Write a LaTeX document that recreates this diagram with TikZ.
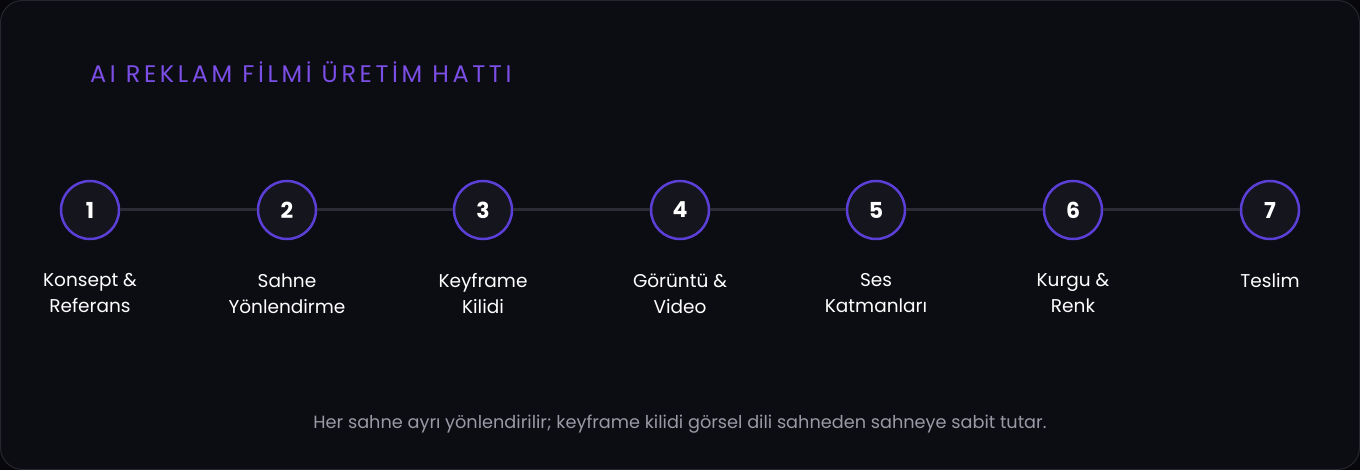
\documentclass[tikz,border=0pt]{standalone}
\usepackage{fontspec}
\setmainfont{Poppins}
\usetikzlibrary{positioning}

\definecolor{outerbg}{HTML}{08080C}
\definecolor{cardbg}{HTML}{0C0C13}
\definecolor{cardline}{HTML}{26262E}
\definecolor{ringcol}{HTML}{5B3FD6}
\definecolor{ringfill}{HTML}{15151D}
\definecolor{railcol}{HTML}{2C2C36}
\definecolor{titlecol}{HTML}{7B4EE6}
\definecolor{notecol}{HTML}{9A9AA6}

\begin{document}
\begin{tikzpicture}[x=1pt, y=-1pt,
    stepcircle/.style={circle, draw=ringcol, fill=ringfill, line width=2.5pt,
      minimum size=58pt, inner sep=0pt, text=white, font=\fontsize{22}{22}\selectfont\bfseries},
    steplabel/.style={align=center, text=white, inner sep=0pt,
      font=\fontsize{18.5}{26}\selectfont},
    rail/.style={draw=railcol, line width=3pt}]

  % Arka plan ve kart
  \fill[outerbg] (0,0) rectangle (1360,470);
  \draw[cardline, fill=cardbg, line width=1pt, rounded corners=22pt] (0.5,0.5) rectangle (1359.5,469.5);

  % Başlık
  \node[anchor=west, text=titlecol, inner sep=0pt,
    font=\fontsize{24}{24}\selectfont\addfontfeatures{LetterSpace=15}] (title) at (90,72)
    {AI REKLAM FİLMİ ÜRETİM HATTI};

  % Adımlar
  \node[stepcircle] (s1) at (90,210) {1};
  \node[stepcircle] (s2) at (287,210) {2};
  \node[stepcircle] (s3) at (483,210) {3};
  \node[stepcircle] (s4) at (680,210) {4};
  \node[stepcircle] (s5) at (876,210) {5};
  \node[stepcircle] (s6) at (1073,210) {6};
  \node[stepcircle] (s7) at (1270,210) {7};

  % Bağlantı çizgileri
  \foreach \a/\b in {1/2, 2/3, 3/4, 4/5, 5/6, 6/7}
    \draw[rail] (s\a) -- (s\b);

  % Adım adları
  \node[steplabel, below=33pt of s1] (l1) {Konsept \&\\Referans};
  \node[steplabel, below=33pt of s2] (l2) {Sahne\\Yönlendirme};
  \node[steplabel, below=33pt of s3] (l3) {Keyframe\\Kilidi};
  \node[steplabel, below=33pt of s4] (l4) {Görüntü \&\\Video};
  \node[steplabel, below=33pt of s5] (l5) {Ses\\Katmanları};
  \node[steplabel, below=33pt of s6] (l6) {Kurgu \&\\Renk};
  \node[steplabel, below=33pt of s7] (l7) {Teslim};

  % Alt not
  \node[text=notecol, inner sep=0pt, font=\fontsize{17.7}{17.7}\selectfont] (note) at (680,424)
    {Her sahne ayrı yönlendirilir; keyframe kilidi görsel dili sahneden sahneye sabit tutar.};
\end{tikzpicture}
\end{document}
